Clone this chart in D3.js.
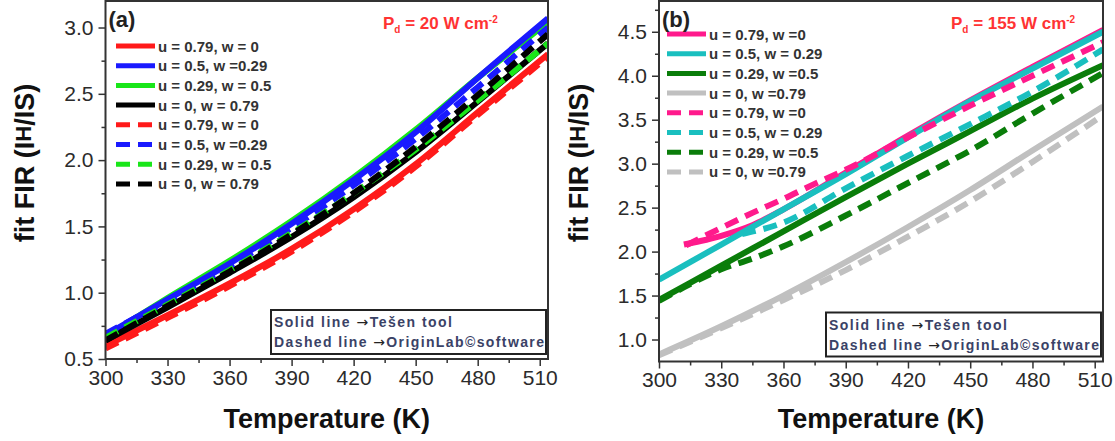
<!DOCTYPE html>
<html>
<head>
<meta charset="utf-8">
<script src="https://cdn.jsdelivr.net/npm/d3@7/dist/d3.min.js"></script>
<style>
	body { margin: 0; background: #fff; }
	svg text { font-family: "Liberation Sans", Arial, sans-serif; }
</style>
</head>
<body>
<script>
// ---- data ----
var xTicks = [300, 330, 360, 390, 420, 450, 480, 510];
var yTicksA = [0.5, 1.0, 1.5, 2.0, 2.5, 3.0];
var yTicksB = [1.0, 1.5, 2.0, 2.5, 3.0, 3.5, 4.0, 4.5];

// panel (a), Pd = 20 W cm-2
var tempsA = [300, 330, 360, 390, 420, 450, 480, 514];
var redSolidA   = [0.60, 0.83, 1.07, 1.33, 1.63, 1.97, 2.36, 2.80];
var blueSolidA  = [0.68, 0.95, 1.22, 1.52, 1.85, 2.21, 2.62, 3.07];
var greenSolidA = [0.67, 0.96, 1.24, 1.54, 1.87, 2.23, 2.62, 3.04];
var blackSolidA = [0.64, 0.89, 1.15, 1.42, 1.72, 2.06, 2.44, 2.88];
var redDashA    = [0.58, 0.81, 1.05, 1.31, 1.61, 1.95, 2.34, 2.78];
var blueDashA   = [0.69, 0.94, 1.20, 1.49, 1.81, 2.16, 2.55, 3.00];
var greenDashA  = [0.66, 0.91, 1.17, 1.45, 1.75, 2.08, 2.45, 2.88];
var blackDashA  = [0.64, 0.90, 1.16, 1.44, 1.75, 2.10, 2.49, 2.95];

// panel (b), Pd = 155 W cm-2
var tempsB = [300, 330, 360, 390, 420, 450, 480, 514];
var pinkSolidT  = [312, 320, 330, 345, 360, 390, 420, 450, 480, 514];
var pinkSolidB  = [2.08, 2.12, 2.18, 2.30, 2.48, 2.90, 3.32, 3.72, 4.10, 4.52];
var cyanSolidB  = [1.68, 2.08, 2.48, 2.88, 3.30, 3.71, 4.08, 4.50];
var greenSolidB = [1.45, 1.84, 2.23, 2.62, 3.00, 3.37, 3.74, 4.12];
var graySolidB  = [0.83, 1.15, 1.50, 1.88, 2.28, 2.70, 3.15, 3.65];
var pinkDashT   = [313, 330, 345, 360, 375, 390, 420, 450, 480, 514];
var pinkDashB   = [2.07, 2.27, 2.44, 2.60, 2.77, 2.93, 3.30, 3.66, 4.00, 4.38];
var cyanDashT   = [340, 360, 390, 420, 450, 480, 514];
var cyanDashB   = [2.20, 2.33, 2.72, 3.09, 3.45, 3.82, 4.30];
var greenDashT  = [300, 315, 330, 345, 360, 390, 420, 450, 480, 514];
var greenDashB  = [1.44, 1.63, 1.80, 1.92, 2.06, 2.41, 2.78, 3.15, 3.57, 4.03];
var grayDashT   = [300, 330, 360, 390, 420, 450, 480, 514];
var grayDashB   = [0.82, 1.13, 1.45, 1.79, 2.17, 2.57, 3.02, 3.55];

var legendA = ["u = 0.79, w = 0", "u = 0.5, w =0.29", "u = 0.29, w = 0.5", "u = 0, w = 0.79"];
var legendB = ["u = 0.79, w =0", "u = 0.5, w = 0.29", "u = 0.29, w =0.5", "u = 0, w =0.79"];
var noteLines = [["Solid line ", "Te\u0161en tool"], ["Dashed line ", "OriginLab\u00A9software"]];

function zip(ts, vs) {
	return ts.map(function(t, i) { return [t, vs[i]]; });
}

var svg = d3.select("body").append("svg")
	.attr("width", 1115)
	.attr("height", 441);

function drawPanel(p) {
	var x = d3.scaleLinear().domain([300, 514]).range([p.left, p.right]);
	var y = d3.scaleLinear().domain(p.yDomain).range([p.bottom, p.top]);
	var g = svg.append("g");

	// axes, ticks point outward
	var xMinor = d3.range(315, 514, 30);
	var yMinor = p.yTicks.map(function(v) { return v + 0.25; })
		.concat([p.yTicks[0] - 0.25])
		.filter(function(v) { return v > p.yDomain[0] && v < p.yDomain[1]; });
	var xAxis = d3.axisBottom(x).tickValues(xTicks).tickSize(7).tickPadding(4).tickFormat(d3.format("d"));
	var yAxis = d3.axisLeft(y).tickValues(p.yTicks).tickSize(7).tickPadding(5).tickFormat(d3.format(".1f"));
	g.append("g").attr("transform", "translate(0," + p.bottom + ")").call(xAxis);
	g.append("g").attr("transform", "translate(" + p.left + ",0)").call(yAxis);
	g.append("g").attr("transform", "translate(0," + p.bottom + ")")
		.call(d3.axisBottom(x).tickValues(xMinor).tickSize(4).tickFormat(""));
	g.append("g").attr("transform", "translate(" + p.left + ",0)")
		.call(d3.axisLeft(y).tickValues(yMinor).tickSize(4).tickFormat(""));
	g.selectAll(".domain").remove();
	g.selectAll(".tick line").attr("stroke", "#333").attr("stroke-width", 1.5);
	g.selectAll(".tick text").attr("fill", "#2b2b2b").style("font-size", "21px");

	// clip the curves to the frame
	var clipId = "clip" + p.name;
	svg.append("clipPath").attr("id", clipId).append("rect")
		.attr("x", p.left).attr("y", p.top)
		.attr("width", p.right - p.left).attr("height", p.bottom - p.top);

	var line = d3.line()
		.x(function(d) { return x(d[0]); })
		.y(function(d) { return y(d[1]); })
		.curve(d3.curveMonotoneX);

	g.append("g").attr("clip-path", "url(#" + clipId + ")")
		.selectAll("path")
		.data(p.series)
		.enter()
		.append("path")
		.attr("d", function(d) { return line(d.pts); })
		.attr("fill", "none")
		.attr("stroke", function(d) { return d.color; })
		.attr("stroke-width", 6)
		.attr("stroke-dasharray", function(d) { return d.dash ? "14,8" : null; });

	// frame
	g.append("rect")
		.attr("x", p.left).attr("y", p.top)
		.attr("width", p.right - p.left).attr("height", p.bottom - p.top)
		.attr("fill", "none").attr("stroke", "#333").attr("stroke-width", 2);

	// legend
	var leg = g.append("g");
	p.legendItems.forEach(function(it, i) {
		var ly = p.legY + i * 19.7;
		leg.append("line")
			.attr("x1", p.legX).attr("x2", p.legX + 39)
			.attr("y1", ly).attr("y2", ly)
			.attr("stroke", it.color).attr("stroke-width", 5)
			.attr("stroke-dasharray", it.dash ? "14,8" : null);
		leg.append("text")
			.attr("x", p.legX + 42).attr("y", ly + 5.5)
			.attr("fill", "#333").style("font-size", "15px").style("font-weight", "bold")
			.text(it.label);
	});

	// panel tag and power density
	g.append("text").attr("x", p.left + 3).attr("y", 27)
		.style("font-size", "22px").style("font-weight", "bold").attr("fill", "#222")
		.text(p.tag);
	var pd = g.append("text").attr("x", p.pdX).attr("y", 29)
		.style("font-size", "17px").style("font-weight", "bold").attr("fill", "#ff3333");
	pd.append("tspan").text("P");
	pd.append("tspan").attr("dy", 4).style("font-size", "10px").text("d");
	pd.append("tspan").attr("dy", -4).text(" = " + p.pdValue + " W cm");
	pd.append("tspan").attr("dy", -6).style("font-size", "10px").text("-2");

	// note box
	var bx = p.right - 277, by = p.bottom - 49;
	g.append("rect").attr("x", bx).attr("y", by).attr("width", 275).attr("height", 44)
		.attr("fill", "#fff").attr("stroke", "#222").attr("stroke-width", 2);
	noteLines.forEach(function(t, i) {
		var tx = g.append("text").attr("x", bx + 3).attr("y", by + 17 + i * 20)
			.attr("fill", "#3a4266").style("font-size", "14px").style("font-weight", "bold")
			.attr("textLength", i === 0 ? 178 : 270).attr("lengthAdjust", "spacing");
		tx.append("tspan").text(t[0]);
		tx.append("tspan").style("font-family", "'DejaVu Sans'").style("font-weight", "normal")
			.attr("fill", "#222").text("\u2192");
		tx.append("tspan").text(t[1]);
	});

	// axis titles
	g.append("text")
		.attr("x", (p.left + p.right) / 2).attr("y", 428)
		.attr("text-anchor", "middle")
		.style("font-size", "27px").style("font-weight", "bold").attr("fill", "#111")
		.text("Temperature (K)");
	var yt = g.append("text")
		.attr("transform", "translate(" + p.titleX + ",163) rotate(-90)")
		.attr("text-anchor", "middle")
		.style("font-size", "27px").style("font-weight", "bold").attr("fill", "#111");
	yt.append("tspan").text("fit FIR (I");
	yt.append("tspan").attr("dy", -3).style("font-size", "22px").text("H");
	yt.append("tspan").attr("dy", 3).text("/IS)");
}

var colorsA = ["#ff1a1a", "#1a1aff", "#19e619", "#000"];
var seriesA = [
	{ pts: zip(tempsA, redSolidA), color: colorsA[0] },
	{ pts: zip(tempsA, greenSolidA), color: colorsA[2] },
	{ pts: zip(tempsA, blueSolidA), color: colorsA[1] },
	{ pts: zip(tempsA, blackSolidA), color: colorsA[3] },
	{ pts: zip(tempsA, redDashA), color: colorsA[0], dash: true },
	{ pts: zip(tempsA, blueDashA), color: colorsA[1], dash: true },
	{ pts: zip(tempsA, greenDashA), color: colorsA[2], dash: true },
	{ pts: zip(tempsA, blackDashA), color: colorsA[3], dash: true }
];

var colorsB = ["#ff1a8c", "#1abfbf", "#0a7d0a", "#c0c0c0"];
var seriesB = [
	{ pts: zip(pinkSolidT, pinkSolidB), color: colorsB[0] },
	{ pts: zip(tempsB, cyanSolidB), color: colorsB[1] },
	{ pts: zip(tempsB, greenSolidB), color: colorsB[2] },
	{ pts: zip(tempsB, graySolidB), color: colorsB[3] },
	{ pts: zip(pinkDashT, pinkDashB), color: colorsB[0], dash: true },
	{ pts: zip(cyanDashT, cyanDashB), color: colorsB[1], dash: true },
	{ pts: zip(greenDashT, greenDashB), color: colorsB[2], dash: true },
	{ pts: zip(grayDashT, grayDashB), color: colorsB[3], dash: true }
];

function legendItems(labels, colors) {
	var items = [];
	[false, true].forEach(function(dash) {
		labels.forEach(function(l, i) { items.push({ label: l, color: colors[i], dash: dash }); });
	});
	return items;
}

drawPanel({
	name: "A", left: 105.5, right: 548, top: 1, bottom: 359,
	yDomain: [0.5, 3.2], yTicks: yTicksA, series: seriesA,
	legendItems: legendItems(legendA, colorsA), legX: 116, legY: 46,
	tag: "(a)", pdX: 383, pdValue: "20", titleX: 34
});
drawPanel({
	name: "B", left: 659, right: 1103, top: 1, bottom: 361.5,
	yDomain: [0.75, 4.85], yTicks: yTicksB, series: seriesB,
	legendItems: legendItems(legendB, colorsB), legX: 667, legY: 34,
	tag: "(b)", pdX: 951, pdValue: "155", titleX: 588
});
</script>
</body>
</html>
